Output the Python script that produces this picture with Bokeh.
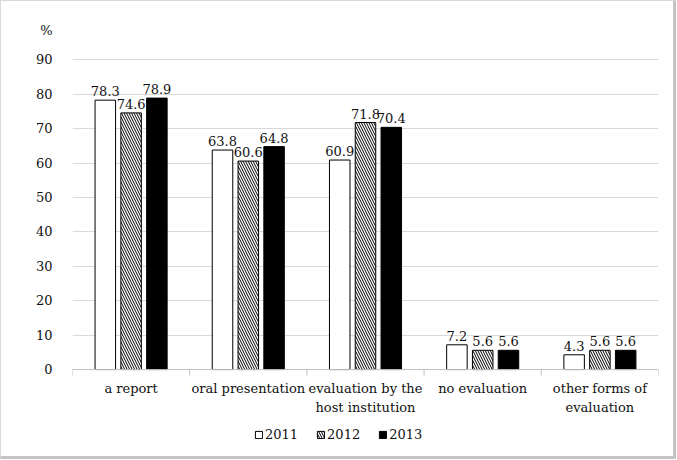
import math
from bokeh.plotting import figure
from bokeh.models import (ColumnDataSource, Range1d, FixedTicker, Legend, LegendItem, Span)
from bokeh.transform import dodge
from bokeh.core.properties import value
from bokeh.embed import file_html
from bokeh.resources import INLINE

categories = ["a report", "oral presentation", "evaluation by the\nhost institution",
              "no evaluation", "other forms of\nevaluation"]
years = ["2011", "2012", "2013"]
v2011 = [78.3, 63.8, 60.9, 7.2, 4.3]
v2012 = [74.6, 60.6, 71.8, 5.6, 5.6]
v2013 = [78.9, 64.8, 70.4, 5.6, 5.6]
y_ticks = [0, 10, 20, 30, 40, 50, 60, 70, 80, 90]
unit_label = "%"

FONT = "DejaVu Serif"
TXT = "#111111"

n = len(categories)
centers = [i + 0.5 for i in range(n)]
bounds = list(range(n + 1))

source = ColumnDataSource(dict(
    xc=centers, cat=categories,
    v2011=v2011, v2012=v2012, v2013=v2013,
    l2011=[f"{v:.1f}" for v in v2011],
    l2012=[f"{v:.1f}" for v in v2012],
    l2013=[f"{v:.1f}" for v in v2013],
))

# y range extends below zero to hold category labels and legend (like the original layout)
p = figure(x_range=Range1d(0, n), y_range=Range1d(-24.1, 100),
           width=676, height=459, output_backend="svg", toolbar_location=None,
           x_axis_location=None, min_border_left=71, min_border_right=19,
           min_border_top=24, min_border_bottom=8)
p.outline_line_color = None
p.background_fill_color = "white"
p.border_fill_color = "white"
p.styles = {"border-left": "1px solid #d9d9d9", "border-top": "1px solid #d9d9d9",
            "border-right": "3px solid #c4c4c4", "border-bottom": "3px solid #c4c4c4"}

p.xgrid.visible = False
p.ygrid.ticker = FixedTicker(ticks=y_ticks[1:])
p.ygrid.grid_line_color = "#d9d9d9"
p.ygrid.grid_line_width = 1

pct_pos = 98.5
p.yaxis.ticker = FixedTicker(ticks=y_ticks + [pct_pos])
p.yaxis.major_label_overrides = {pct_pos: unit_label}
p.yaxis.axis_line_color = None
p.yaxis.major_tick_line_color = None
p.yaxis.minor_tick_line_color = None
p.yaxis.major_label_text_font = FONT
p.yaxis.major_label_text_font_size = "13px"
p.yaxis.major_label_text_color = TXT
p.yaxis.major_label_standoff = 14

offsets = [-0.22, 0.0, 0.22]
bw = 0.175

r1 = p.vbar(x=dodge("xc", offsets[0]), top="v2011", width=bw,
            source=source, fill_color="white", line_color="black", line_width=1)
r2 = p.vbar(x=dodge("xc", offsets[1]), top="v2012", width=bw,
            source=source, fill_color="white", line_color="black", line_width=1,
            hatch_pattern="left_diagonal_line", hatch_color="black",
            hatch_scale=5, hatch_weight=1)
r3 = p.vbar(x=dodge("xc", offsets[2]), top="v2013", width=bw,
            source=source, fill_color="black", line_color="black", line_width=1)

for off, col in zip(offsets, ["l2011", "l2012", "l2013"]):
    yc = "v" + col[1:]
    p.text(x=dodge("xc", off), y=yc, text=col, source=source,
           text_align="center", text_baseline="bottom", y_offset=-4,
           text_font=value(FONT), text_font_size=value("13px"), text_color=TXT)

# category axis: baseline, separator ticks at category boundaries, labels
p.add_layout(Span(location=y_ticks[0], dimension="width",
                  line_color="#bfbfbf", line_width=1))
p.ray(x=bounds, y=[y_ticks[0]] * len(bounds), length=6, length_units="screen",
      angle=-math.pi / 2, line_color="#bfbfbf", line_width=1)
p.text(x="xc", y=y_ticks[0], text="cat", source=source,
       text_align="center", text_baseline="top", y_offset=11,
       text_line_height=1.3,
       text_font=value(FONT), text_font_size=value("13px"), text_color=TXT)

legend = Legend(items=[LegendItem(label=years[0], renderers=[r1]),
                       LegendItem(label=years[1], renderers=[r2]),
                       LegendItem(label=years[2], renderers=[r3])],
                orientation="horizontal", location=(182, 10),
                border_line_color=None, background_fill_alpha=0,
                glyph_width=9, glyph_height=9, label_standoff=2, spacing=18,
                padding=0, margin=0,
                label_text_font=FONT, label_text_font_size="13px",
                label_text_color=TXT)
p.add_layout(legend)

open("out.html", "w").write(file_html(p, INLINE))
